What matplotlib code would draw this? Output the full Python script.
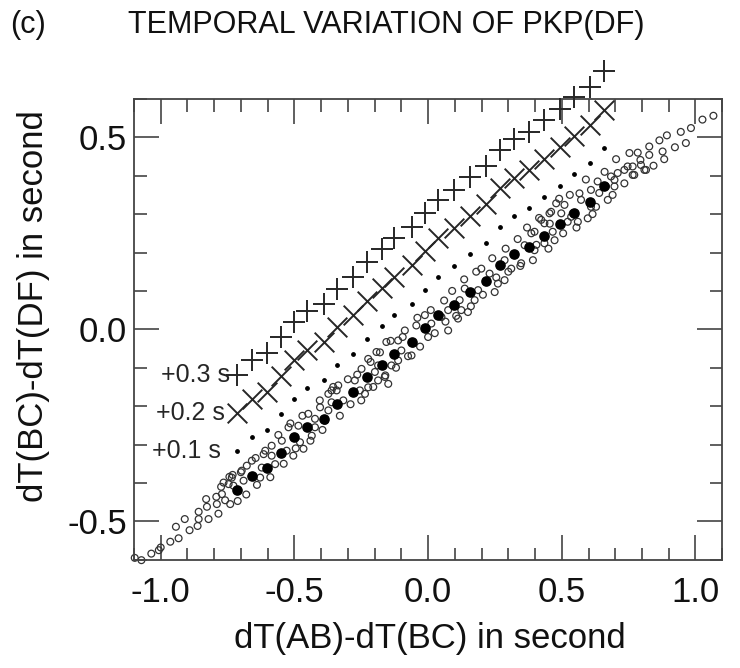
import numpy as np
import matplotlib
matplotlib.use('Agg')
import matplotlib.pyplot as plt
from matplotlib.ticker import MultipleLocator

plt.rcParams['font.family'] = ['Liberation Sans', 'DejaVu Sans']

## the data
# mean values (filled dots)
mean_x = [-0.713, -0.659, -0.603, -0.551, -0.501, -0.454, -0.389, -0.342, -0.282,
          -0.230, -0.171, -0.127, -0.062, -0.012, 0.037, 0.097, 0.158, 0.215,
          0.268, 0.320, 0.377, 0.435, 0.494, 0.547, 0.607, 0.656]
mean_y = [-0.418, -0.381, -0.362, -0.321, -0.281, -0.253, -0.233, -0.194, -0.164,
          -0.125, -0.092, -0.063, -0.033, 0.003, 0.037, 0.064, 0.096, 0.126,
          0.167, 0.195, 0.215, 0.244, 0.274, 0.304, 0.332, 0.372]

# shifted copies of the mean curve
shift_values = [0.1, 0.2, 0.3]
shift_labels = ['+0.1 s', '+0.2 s', '+0.3 s']

# individual measurements (open circles)
circ_x = [-1.097, -1.072, -1.035, -1.007, -1.000, -0.964, -0.933, -0.943, -0.910, -0.892,
          -0.862, -0.858, -0.858, -0.827, -0.830, -0.821, -0.784, -0.790, -0.792, -0.771,
          -0.759, -0.774, -0.765, -0.746, -0.743, -0.731, -0.712, -0.740,
          -0.734, -0.728, -0.697, -0.690, -0.628, -0.622, -0.659, -0.678, -0.609, -0.585,
          -0.572, -0.585, -0.547, -0.529, -0.504, -0.522, -0.479, -0.466, -0.485, -0.448,
          -0.423, -0.435, -0.404, -0.385, -0.373, -0.373, -0.361, -0.342, -0.423,
          -0.361, -0.336, -0.317, -0.274, -0.255, -0.236, -0.224, -0.249, -0.199, -0.187,
          -0.162, -0.149, -0.224, -0.193, -0.137, -0.112, -0.100, -0.156, -0.112, -0.062,
          -0.056, -0.087, -0.044, -0.012, 0.000, 0.012, -0.187,
          0.050, 0.075, 0.075, 0.112, 0.118, 0.137, 0.149, 0.174, 0.187, 0.199,
          0.230, 0.249, 0.261, 0.286, 0.286, 0.311, 0.323, 0.348, 0.361, 0.386,
          0.398, 0.218, 0.124,
          0.392, 0.423, 0.435, 0.466, 0.473, 0.460, 0.479, 0.498, 0.522, 0.510,
          0.541, 0.560, 0.566, 0.572, 0.597, 0.609, 0.628, 0.634, 0.672, 0.665,
          0.697, 0.684, 0.709, 0.734, 0.746, 0.398,
          0.703, 0.734, 0.697, 0.771, 0.809, 0.454, 0.435, 0.535, 0.609,
          1.067, 1.026, 0.983, 0.945, 0.893, 0.865, 0.964, 0.923, 0.877, 0.883,
          0.827, 0.827, 0.784, 0.794, 0.796, 0.843, 0.815, 0.765, 0.765, 0.753,
          -0.700, -0.680, -0.645, -0.640, -0.615, -0.590, -0.560, -0.540, -0.515, -0.495,
          -0.470, -0.440, -0.405, -0.395, -0.355, -0.330, -0.300, -0.290, -0.265, -0.250,
          -0.215, -0.205, -0.180, -0.160, -0.140, -0.120, -0.095, -0.075, -0.040, -0.030,
          0.010, 0.025, 0.060, 0.065, 0.090, 0.105, 0.135, 0.160, 0.180, 0.205,
          0.240, 0.255, 0.290, 0.300, 0.335, 0.345, 0.370, 0.405, 0.415, 0.450,
          0.455, 0.490, 0.505, 0.530, 0.555, 0.590, 0.615, 0.640, 0.660, 0.690]
circ_y = [-0.595, -0.601, -0.584, -0.575, -0.568, -0.553, -0.544, -0.514, -0.494, -0.523,
          -0.512, -0.494, -0.475, -0.462, -0.442, -0.494, -0.480, -0.455, -0.436, -0.429,
          -0.445, -0.410, -0.399, -0.403, -0.384, -0.379, -0.447, -0.455,
          -0.386, -0.407, -0.368, -0.394, -0.386, -0.360, -0.342, -0.355, -0.316, -0.329,
          -0.351, -0.303, -0.290, -0.316, -0.329, -0.255, -0.294, -0.311, -0.251, -0.220,
          -0.255, -0.277, -0.203, -0.238, -0.211, -0.168, -0.190, -0.159, -0.233,
          -0.159, -0.146, -0.185, -0.133, -0.159, -0.168, -0.151, -0.103, -0.111, -0.133,
          -0.124, -0.142, -0.077, -0.059, -0.094, -0.081, -0.055, -0.033, -0.029, -0.068,
          -0.037, -0.003, 0.010, 0.037, -0.020, 0.015, -0.094,
          0.032, 0.050, -0.003, 0.028, 0.076, 0.106, 0.045, 0.076, 0.102, 0.158,
          0.145, 0.097, 0.119, 0.128, 0.180, 0.158, 0.193, 0.172, 0.219, 0.250,
          0.206, 0.124, 0.050,
          0.180, 0.285, 0.224, 0.254, 0.232, 0.306, 0.328, 0.302, 0.280, 0.324,
          0.302, 0.280, 0.354, 0.337, 0.289, 0.363, 0.319, 0.385, 0.337, 0.372,
          0.372, 0.398, 0.407, 0.380, 0.424, 0.254,
          0.443, 0.415, 0.389, 0.402, 0.415, 0.302, 0.276, 0.293, 0.319,
          0.556, 0.546, 0.524, 0.514, 0.505, 0.492, 0.485, 0.474, 0.463, 0.443,
          0.476, 0.454, 0.460, 0.441, 0.428, 0.426, 0.415, 0.424, 0.402, 0.459,
          -0.372, -0.430, -0.335, -0.405, -0.325, -0.385, -0.275, -0.350, -0.245, -0.310,
          -0.225, -0.290, -0.185, -0.262, -0.150, -0.225, -0.130, -0.195, -0.118, -0.185,
          -0.085, -0.150, -0.060, -0.120, -0.030, -0.100, -0.020, -0.070, 0.030, -0.045,
          0.050, -0.010, 0.075, 0.020, 0.100, 0.035, 0.130, 0.060, 0.150, 0.090,
          0.185, 0.135, 0.210, 0.150, 0.235, 0.165, 0.265, 0.220, 0.290, 0.210,
          0.275, 0.340, 0.250, 0.350, 0.265, 0.390, 0.300, 0.355, 0.410, 0.350]

fig = plt.figure(figsize=(7.4, 6.68), dpi=100)
ax = fig.add_axes([0.181, 0.162, 0.795, 0.690])

ink = '#262626'

ax.scatter(circ_x, circ_y, s=24, facecolors='none', edgecolors='#333333',
           linewidths=0.9, clip_on=False, zorder=2)
ax.scatter(mean_x, mean_y, s=44, color='black', zorder=4)

mx = np.array(mean_x)
my = np.array(mean_y)
ax.scatter(mx, my + shift_values[0], s=6, color='black', zorder=3)
ax.scatter(mx, my + shift_values[1], s=200, marker='x', color=ink,
           linewidths=1.4, clip_on=False, zorder=3)
ax.scatter(mx, my + shift_values[2], s=240, marker='+', color=ink,
           linewidths=1.4, clip_on=False, zorder=3)

# labels for the shifted curves, placed left of the first marker
for sv, lab, dx in zip(shift_values, shift_labels, [0.063, 0.048, 0.026]):
    ax.text(mean_x[0] - dx, mean_y[0] + sv, lab, ha='right', va='center',
            fontsize=18, color=ink)

## axes and labels
ax.set_xlim(-1.1, 1.1)
ax.set_ylim(-0.6, 0.6)
ax.xaxis.set_minor_locator(MultipleLocator(0.1))
ax.yaxis.set_minor_locator(MultipleLocator(0.1))
ax.set_xticks([-1.0, -0.5, 0.0, 0.5, 1.0])
ax.set_yticks([-0.5, 0.0, 0.5])
ax.set_xticklabels(['-1.0', '-0.5', '0.0', '0.5', '1.0'])
ax.set_yticklabels(['-0.5', '0.0', '0.5'])

ax.tick_params(which='both', direction='in', top=True, right=True,
               color='#444444', width=1.2, labelsize=25, labelcolor='#111111')
ax.tick_params(which='major', length=18)
ax.tick_params(which='minor', length=9)
ax.tick_params(axis='x', which='major', pad=12)
ax.tick_params(axis='y', which='major', pad=5)

for sp in ax.spines.values():
    sp.set_color('#444444')
    sp.set_linewidth(1.3)

ax.set_xlabel('dT(AB)-dT(BC) in second', fontsize=25, color='#111111')
ax.set_ylabel('dT(BC)-dT(DF) in second', fontsize=25, color='#111111')
ax.xaxis.set_label_coords(0.503, -0.135)
ax.yaxis.set_label_coords(-0.143, 0.55)

fig.text(0.014, 0.962, '(c)', fontsize=22, va='center', ha='left', color='#111111')
fig.text(0.173, 0.962, 'TEMPORAL VARIATION OF PKP(DF)', fontsize=22,
         va='center', ha='left', color='#111111')

fig.savefig('out.png', dpi=100)
